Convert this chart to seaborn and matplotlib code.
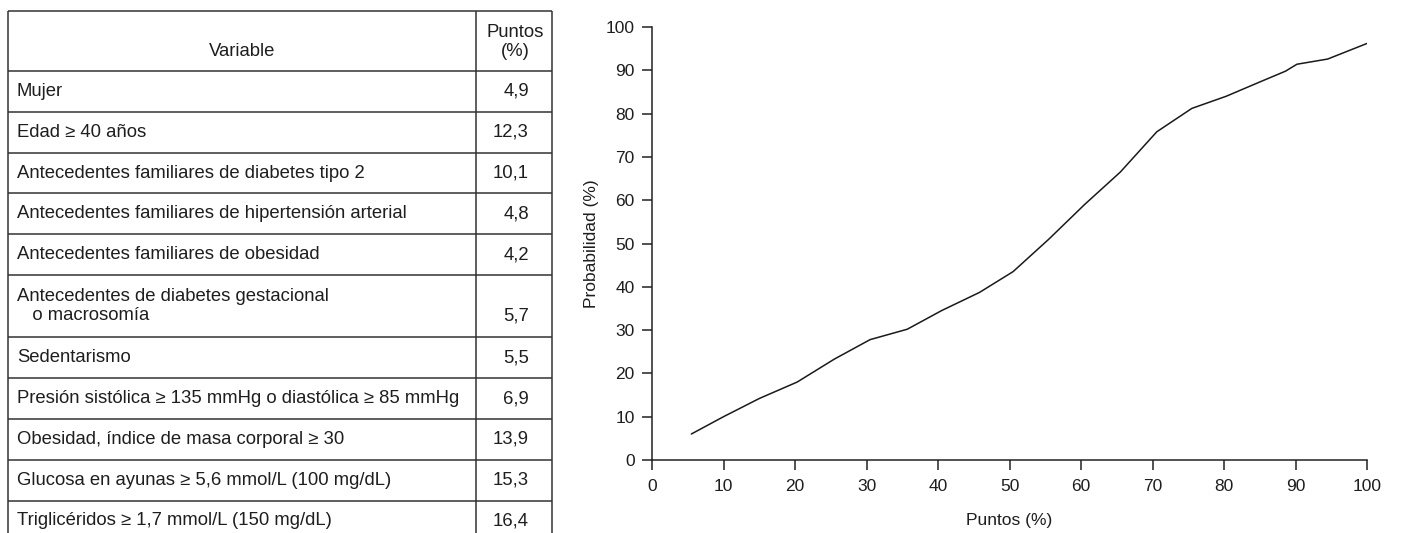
import seaborn as sns
import matplotlib.pyplot as plt
import pandas as pd

# table contents
variables = ['Mujer',
             'Edad \u2265 40 años',
             'Antecedentes familiares de diabetes tipo 2',
             'Antecedentes familiares de hipertensión arterial',
             'Antecedentes familiares de obesidad',
             'Antecedentes de diabetes gestacional\n   o macrosomía',
             'Sedentarismo',
             'Presión sistólica \u2265 135 mmHg o diastólica \u2265 85 mmHg',
             'Obesidad, índice de masa corporal \u2265 30',
             'Glucosa en ayunas \u2265 5,6 mmol/L (100 mg/dL)',
             'Triglicéridos \u2265 1,7 mmol/L (150 mg/dL)']
puntos_tabla = ['4,9', '12,3', '10,1', '4,8', '4,2', '5,7', '5,5', '6,9', '13,9', '15,3', '16,4']

# curve
puntos = [5.5, 10, 15, 20.3, 25.5, 30.5, 35.7, 40.5, 45.8, 50.5, 55.5, 60.5,
          65.5, 70.6, 75.5, 80.3, 85, 88.6, 90.2, 94.5, 100]
probabilidad = [6, 10, 14.2, 18, 23.3, 27.8, 30.2, 34.5, 38.7, 43.5, 51, 59,
                66.5, 75.8, 81.2, 84, 87.3, 89.8, 91.4, 92.6, 96.2]

df = pd.DataFrame({'Puntos (%)': puntos, 'Probabilidad (%)': probabilidad})

sns.set_style('ticks')
plt.rcParams['font.family'] = ['Liberation Sans', 'DejaVu Sans']
plt.rcParams['text.color'] = '#1e1e1e'

W, H = 1401, 533
fig = plt.figure(figsize=(W / 100, H / 100), dpi=100)

# ---- table, drawn in pixel coords ----
tab = fig.add_axes([0, 0, 1, 1])
tab.set_xlim(0, W)
tab.set_ylim(H, 0)
tab.axis('off')

x_left, x_div, x_right = 8, 476, 552
y_top, head_h, row_h, extra = 11, 60, 40.8, 21.5
fs = 13.3
lc = '#333333'

ys = [y_top, y_top + head_h]
for v in variables:
    h = row_h + (extra if '\n' in v else 0)
    ys.append(ys[-1] + h)

for y in ys:
    tab.plot([x_left, x_right], [y, y], color=lc, lw=1.1, solid_capstyle='butt')
for x in (x_left, x_div, x_right):
    tab.plot([x, x], [y_top, ys[-1]], color=lc, lw=1.1, solid_capstyle='butt')

tab.text((x_left + x_div) / 2, y_top + 41, 'Variable', ha='center', va='center', fontsize=fs)
tab.text((x_div + x_right) / 2 + 1, y_top + 31, 'Puntos\n(%)', ha='center', va='center',
         fontsize=fs, linespacing=1.2)

for i, (v, p) in enumerate(zip(variables, puntos_tabla)):
    y0, y1 = ys[i + 1], ys[i + 2]
    if '\n' in v:
        tab.text(x_left + 9, (y0 + y1) / 2, v, ha='left', va='center', fontsize=fs, linespacing=1.2)
        tab.text(x_right - 23, y1 - 21, p, ha='right', va='center', fontsize=fs)
    else:
        tab.text(x_left + 9, (y0 + y1) / 2, v, ha='left', va='center', fontsize=fs)
        tab.text(x_right - 23, (y0 + y1) / 2, p, ha='right', va='center', fontsize=fs)

# ---- line chart ----
ax = fig.add_axes([652 / W, 1 - 460 / H, 715 / W, 433 / H])
sns.lineplot(data=df, x='Puntos (%)', y='Probabilidad (%)', ax=ax, color='#1a1a1a', lw=1.1)
ax.set_xlim(0, 100)
ax.set_ylim(0, 100)
ax.set_xticks(range(0, 101, 10))
ax.set_yticks(range(0, 101, 10))
ax.patch.set_alpha(0)
for s in ('top', 'right'):
    ax.spines[s].set_visible(False)
for s in ('left', 'bottom'):
    ax.spines[s].set_linewidth(1.1)
    ax.spines[s].set_color('#222222')
ax.spines['bottom'].set_clip_on(False)
ax.tick_params(axis='both', length=7.5, width=1.1, color='#222222', labelsize=12.5,
               labelcolor='#1e1e1e')
ax.tick_params(axis='x', pad=6.5)
ax.tick_params(axis='y', pad=5)
ax.set_xlabel('Puntos (%)', fontsize=12.5, labelpad=13, color='#1e1e1e')
ax.set_ylabel('Probabilidad (%)', fontsize=12.5, labelpad=5, color='#1e1e1e')

fig.savefig('out.png', dpi=100)
